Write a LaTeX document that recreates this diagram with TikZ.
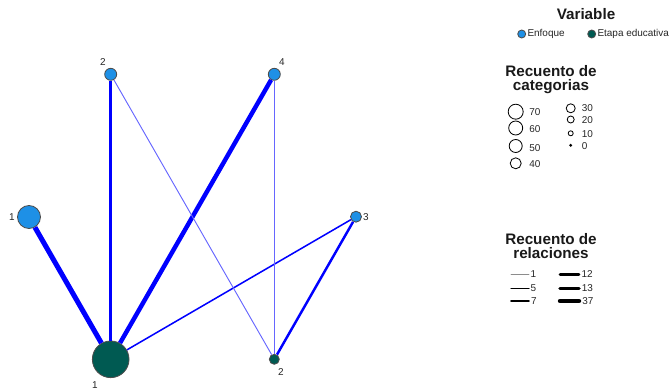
\documentclass[tikz,border=0pt]{standalone}
\usepackage{fontspec}
\setmainfont{Liberation Sans}
\definecolor{enfoque}{RGB}{30,144,230}
\definecolor{etapa}{RGB}{0,90,82}
\definecolor{relacion}{RGB}{0,0,255}

\begin{document}
\begin{tikzpicture}[x=0.03cm, y=-0.03cm,
    cat/.style={circle, draw=black!70, line width=0.7pt, inner sep=0pt},
    enf/.style={cat, fill=enfoque},
    eta/.style={cat, fill=etapa},
    num/.style={font=\fontsize{8.5}{10}\selectfont, text=black!85, inner sep=1pt},
    ttl/.style={font=\fontsize{13}{14}\selectfont\bfseries, align=center, text=black!90},
    rel/.style={draw=relacion},
    sz/.style={circle, draw=black, line width=0.7pt, fill=white, inner sep=0pt},
    key/.style={line cap=round},
]
    \useasboundingbox (0,0) rectangle (671,392);

    % categorias
    \node[enf, minimum size=0.69cm] (e1) at (29,217) {};
    \node[enf, minimum size=0.36cm] (e2) at (110.7,74.3) {};
    \node[enf, minimum size=0.33cm] (e3) at (356,216.7) {};
    \node[enf, minimum size=0.36cm] (e4) at (274.3,74.3) {};
    \node[eta, minimum size=1.1cm] (t1) at (110.7,359.3) {};
    \node[eta, minimum size=0.3cm] (t2) at (274.3,359.3) {};

    \node[num] (e1lab) at (12,217) {1};
    \node[num] (e2lab) at (103,62) {2};
    \node[num] (e3lab) at (366,217) {3};
    \node[num] (e4lab) at (282,62) {4};
    \node[num] (t1lab) at (95,385) {1};
    \node[num] (t2lab) at (281,372) {2};

    % relaciones
    \draw[rel, line width=4.3pt] (e1) -- (t1);
    \draw[rel, line width=3.8pt] (e4) -- (t1);
    \draw[rel, line width=3pt] (e2) -- (t1);
    \draw[rel, line width=1.3pt] (e3) -- (t1);
    \draw[rel, line width=2.1pt] (e3) -- (t2);
    \draw[rel, draw=relacion!60, line width=0.8pt] (e2) -- (t2);
    \draw[rel, draw=relacion!60, line width=0.8pt] (e4) -- (t2);

    % leyenda: variable
    \node[ttl] (vartitle) at (586,14) {Variable};
    \node[enf, minimum size=0.24cm] (kenf) at (521.7,34) {};
    \node[num, anchor=west] (kenflab) at (kenf.east) {Enfoque};
    \node[eta, minimum size=0.24cm] (keta) at (591.7,34) {};
    \node[num, anchor=west] (ketalab) at (keta.east) {Etapa educativa};

    % leyenda: recuento de categorias
    \node[ttl] (cattitle) at (551,79.5) {Recuento de\\[-2pt]categorias};
    \node[sz, minimum size=0.45cm] (c70) at (515.7,111.7) {};
    \node[sz, minimum size=0.42cm] (c60) at (515.7,128) {};
    \node[sz, minimum size=0.39cm] (c50) at (515.7,146) {};
    \node[sz, minimum size=0.33cm] (c40) at (515.7,163.3) {};
    \node[sz, minimum size=0.27cm] (c30) at (570.7,108.3) {};
    \node[sz, minimum size=0.21cm] (c20) at (570.7,119.5) {};
    \node[sz, minimum size=0.15cm] (c10) at (570.7,133.3) {};
    \node[sz, fill=black, minimum size=0.06cm] (c0) at (570.7,145.3) {};
    \node[num, anchor=west] at (528,111.7) {70};
    \node[num, anchor=west] at (528,129) {60};
    \node[num, anchor=west] at (528,148) {50};
    \node[num, anchor=west] at (528,164.5) {40};
    \node[num, anchor=west] at (580.5,108.3) {30};
    \node[num, anchor=west] at (580.5,120.5) {20};
    \node[num, anchor=west] at (580.5,134) {10};
    \node[num, anchor=west] at (580.5,146) {0};

    % leyenda: recuento de relaciones
    \node[ttl] (reltitle) at (551,246.5) {Recuento de\\[-2pt]relaciones};
    \draw[key, draw=black!45, line width=0.8pt] (511,274.3) -- (529,274.3)
        node[num, anchor=west, text=black!85] {1};
    \draw[key, line width=0.9pt] (511,288.3) -- (529,288.3)
        node[num, anchor=west] {5};
    \draw[key, line width=1.5pt] (511,301) -- (529,301)
        node[num, anchor=west] {7};
    \draw[key, line width=2.5pt] (560,274.3) -- (579,274.3)
        node[num, anchor=west] {12};
    \draw[key, line width=3pt] (560,288.3) -- (579,288.3)
        node[num, anchor=west] {13};
    \draw[key, line width=3.8pt] (560,301) -- (579,301)
        node[num, anchor=west] {37};
\end{tikzpicture}
\end{document}
